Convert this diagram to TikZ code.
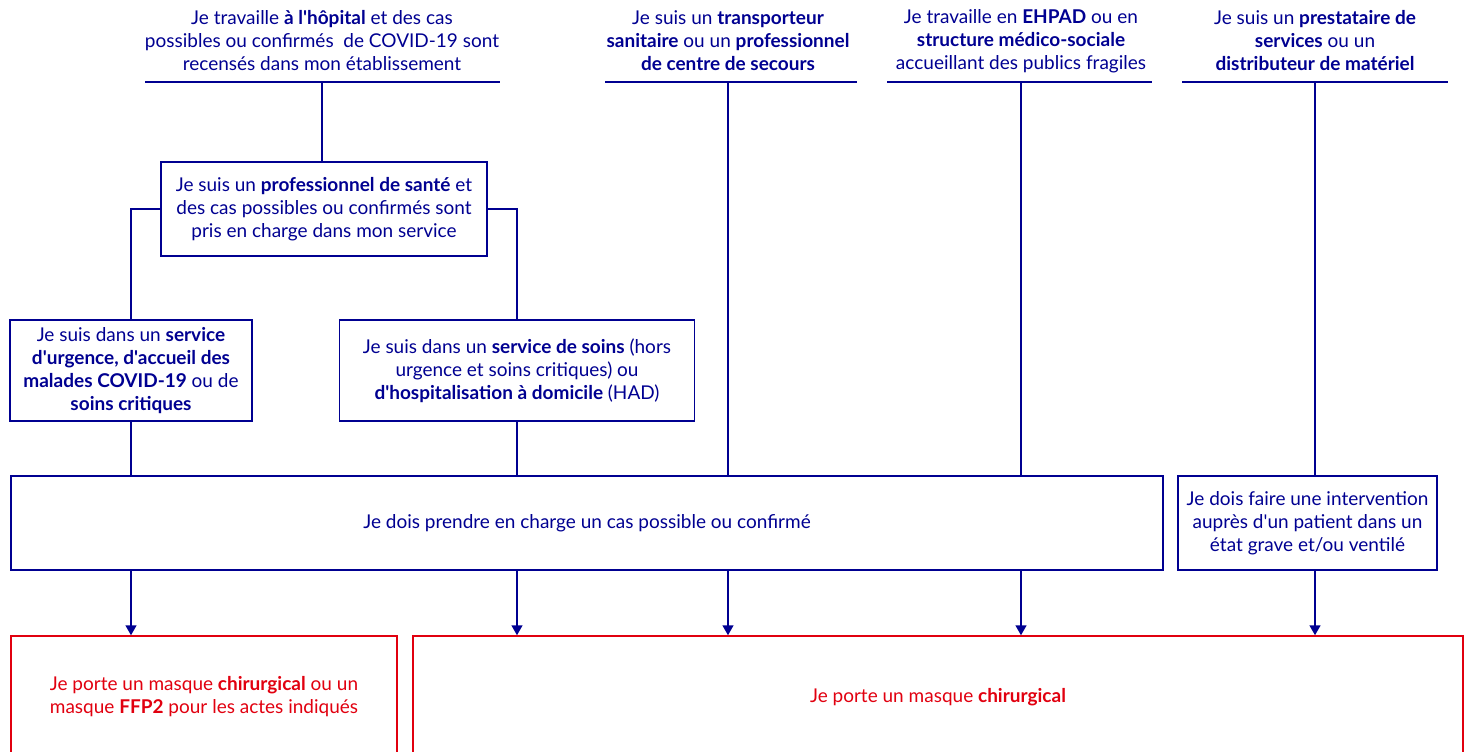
\documentclass[tikz,border=0pt]{standalone}
\usepackage{fontspec}
\newfontfamily\lato{Lato}
\usetikzlibrary{arrows.meta}
\definecolor{bleu}{HTML}{000091}
\definecolor{rouge}{HTML}{E1000F}
\begin{document}
\begin{tikzpicture}[x=1pt,y=-1pt,
  every node/.style={font=\lato\fontsize{19}{23}\selectfont, text=bleu, align=center, inner sep=0pt},
  bbox/.style={draw=bleu, line width=1.5pt},
  rbox/.style={draw=rouge, line width=1.5pt, text=rouge},
  conn/.style={draw=bleu, line width=1.5pt},
  arr/.style={conn, -{Triangle[width=11pt,length=10pt]}},
  hline/.style={draw=bleu, line width=1.5pt}]
\useasboundingbox (0,0) rectangle (1467,752);
% headers
\node (h1) at (322,41) {Je travaille \textbf{à l'hôpital} et des cas\\possibles ou confirmés\ \ de COVID-19 sont\\recensés dans mon établissement};
\node (h2) at (728,41) {Je suis un \textbf{transporteur}\\\textbf{sanitaire} ou un \textbf{professionnel}\\\textbf{de centre de secours}};
\node (h3) at (1021,41) {Je travaille en \textbf{EHPAD} ou en\\\textbf{structure médico-sociale}\\accueillant des publics fragiles};
\node (h4) at (1315,41) {Je suis un \textbf{prestataire de}\\\textbf{services} ou un\\\textbf{distributeur de matériel}};
\coordinate (l1a) at (145,82); \coordinate (l1b) at (500,82); \coordinate (l1m) at (322,82);
\coordinate (l2a) at (605,82); \coordinate (l2b) at (857,82); \coordinate (l2m) at (728,82);
\coordinate (l3a) at (887,82); \coordinate (l3b) at (1152,82); \coordinate (l3m) at (1021,82);
\coordinate (l4a) at (1182,82); \coordinate (l4b) at (1448,82); \coordinate (l4m) at (1315,82);
\draw[hline] (l1a) -- (l1b);
\draw[hline] (l2a) -- (l2b);
\draw[hline] (l3a) -- (l3b);
\draw[hline] (l4a) -- (l4b);
% boxes
\node[bbox, minimum width=326pt, minimum height=94pt] (prof) at (324,209) {Je suis un \textbf{professionnel de santé} et\\des cas possibles ou confirmés sont\\pris en charge dans mon service};
\node[bbox, minimum width=242pt, minimum height=101pt] (A) at (131,370.5) {Je suis dans un \textbf{service}\\\textbf{d'urgence, d'accueil des}\\\textbf{malades COVID-19} ou de\\\textbf{soins critiques}};
\node[bbox, minimum width=355pt, minimum height=101pt] (B) at (517,370.5) {Je suis dans un \textbf{service de soins} (hors\\urgence et soins critiques) ou\\\textbf{d'hospitalisation à domicile} (HAD)};
\node[bbox, minimum width=1152pt, minimum height=94pt] (big) at (587,523) {Je dois prendre en charge un cas possible ou confirmé};
\node[bbox, minimum width=259pt, minimum height=94pt] (small) at (1307.5,523) {Je dois faire une intervention\\auprès d'un patient dans un\\état grave et/ou ventilé};
\node[rbox, minimum width=386pt, minimum height=122pt] (r1) at (204,697) {Je porte un masque \textbf{chirurgical} ou un\\masque \textbf{FFP2} pour les actes indiqués};
\node[rbox, minimum width=1050pt, minimum height=122pt] (r2) at (938,697) {Je porte un masque \textbf{chirurgical}};
% connectors
\draw[conn] (l1m) -- (l1m |- prof.north);
\draw[conn] (prof.west) -| (A.north);
\draw[conn] (prof.east) -| (B.north);
\draw[conn] (A.south) -- (A.south |- big.north);
\draw[conn] (B.south) -- (B.south |- big.north);
\draw[conn] (l2m) -- (l2m |- big.north);
\draw[conn] (l3m) -- (l3m |- big.north);
\draw[conn] (l4m) -- (l4m |- small.north);
\draw[arr] (A.south |- big.south) -- (A.south |- r1.north);
\draw[arr] (B.south |- big.south) -- (B.south |- r2.north);
\draw[arr] (l2m |- big.south) -- (l2m |- r2.north);
\draw[arr] (l3m |- big.south) -- (l3m |- r2.north);
\draw[arr] (l4m |- small.south) -- (l4m |- r2.north);
\end{tikzpicture}
\end{document}
